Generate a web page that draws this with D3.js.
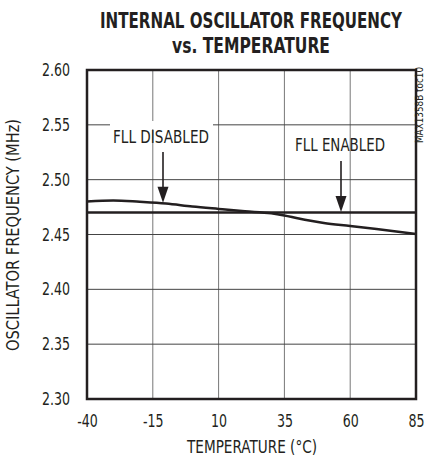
<!DOCTYPE html>
<html><head><meta charset="utf-8">
<script src="https://cdn.jsdelivr.net/npm/d3@7"></script>
<style>
body{margin:0;background:#fff;}
text{font-family:"DejaVu Sans Condensed","Liberation Sans Narrow","Arial Narrow",sans-serif;fill:#231f20;}
</style></head><body>
<svg id="c" width="429" height="459"></svg>
<script>
const temps = [-40, -30, -20, -10, 0, 10, 20, 30, 35, 40, 45, 50, 60, 70, 85];
const fllDisabled = [2.480, 2.481, 2.4798, 2.4782, 2.4755, 2.4733, 2.4712, 2.4693, 2.4673, 2.4648, 2.4625, 2.4605, 2.4578, 2.455, 2.4505];
const fllEnabledTemps = [-40, 85];
const fllEnabled = [2.470, 2.470];
const xTicks = [-40, -15, 10, 35, 60, 85];
const yTicks = [2.30, 2.35, 2.40, 2.45, 2.50, 2.55, 2.60];
const titleLines = ["INTERNAL OSCILLATOR FREQUENCY", "vs. TEMPERATURE"];

const svg = d3.select("#c");
const L = 87, R = 416, T = 70, B = 399;
const x = d3.scaleLinear().domain([-40, 85]).range([L, R]);
const y = d3.scaleLinear().domain([2.30, 2.60]).range([B, T]);

function condense(sel, f) {
  sel.each(function () {
    const w = this.getComputedTextLength();
    d3.select(this).attr("textLength", w * f).attr("lengthAdjust", "spacingAndGlyphs");
  });
}

// title (small font stretched vertically to mimic a bold condensed face)
function titleLine(txt, cy, width) {
  const t = svg.append("text").attr("transform", `translate(251,${cy}) scale(1,1.3)`)
    .attr("text-anchor", "middle").attr("font-size", 16).attr("font-weight", "bold").text(txt);
  t.attr("textLength", width).attr("lengthAdjust", "spacingAndGlyphs");
}
titleLine(titleLines[0], 28, 302);
titleLine(titleLines[1], 53, 158);

// grid
svg.append("g").selectAll("line").data(xTicks.slice(1, -1)).join("line")
  .attr("x1", d => x(d)).attr("x2", d => x(d)).attr("y1", T).attr("y2", B)
  .attr("stroke", "#777").attr("stroke-width", 1);
svg.append("g").selectAll("line").data(yTicks.slice(1, -1)).join("line")
  .attr("x1", L).attr("x2", R).attr("y1", d => y(d)).attr("y2", d => y(d))
  .attr("stroke", "#444").attr("stroke-width", 1);

// axes labels
const xAxis = d3.axisBottom(x).tickValues(xTicks).tickSize(0).tickPadding(16).tickFormat(d => String(d));
const gx = svg.append("g").attr("transform", `translate(0,${B})`).call(xAxis);
gx.select(".domain").remove();
gx.selectAll("text").attr("font-size", 17.5).attr("font-family", null).attr("fill", "#231f20").call(condense, 0.8);

const yAxis = d3.axisLeft(y).tickValues(yTicks).tickSize(0).tickPadding(17).tickFormat(d3.format(".2f"));
const gy = svg.append("g").attr("transform", `translate(${L},0)`).call(yAxis);
gy.select(".domain").remove();
gy.selectAll("text").attr("font-size", 17.5).attr("font-family", null).attr("fill", "#231f20").call(condense, 0.8);

// axis titles
svg.append("text").attr("x", 252).attr("y", 453).attr("text-anchor", "middle")
  .attr("font-size", 17.5).attr("textLength", 130).attr("lengthAdjust", "spacingAndGlyphs").text("TEMPERATURE (°C)");
svg.append("text").attr("transform", "translate(19,235) rotate(-90)").attr("text-anchor", "middle")
  .attr("font-size", 17.5).attr("textLength", 232).attr("lengthAdjust", "spacingAndGlyphs").text("OSCILLATOR FREQUENCY (MHz)");
svg.append("text").attr("transform", "translate(423,105) rotate(-90)").attr("text-anchor", "middle")
  .attr("font-size", 10).attr("textLength", 76).attr("lengthAdjust", "spacingAndGlyphs").text("MAX1358B toc10");

// label background (mask gridline)
svg.append("rect").attr("x", 110).attr("y", 121).attr("width", 103).attr("height", 8).attr("fill", "#fff");

// data lines
const line = d3.line().x(d => x(d[0])).y(d => y(d[1])).curve(d3.curveMonotoneX);
svg.append("path").datum(temps.map((t, i) => [t, fllDisabled[i]])).attr("d", line)
  .attr("fill", "none").attr("stroke", "#231f20").attr("stroke-width", 2.5);
svg.append("path").datum(fllEnabledTemps.map((t, i) => [t, fllEnabled[i]])).attr("d", d3.line().x(d => x(d[0])).y(d => y(d[1])))
  .attr("fill", "none").attr("stroke", "#231f20").attr("stroke-width", 2.5);

// frame
svg.append("rect").attr("x", L).attr("y", T).attr("width", R - L).attr("height", B - T)
  .attr("fill", "none").attr("stroke", "#231f20").attr("stroke-width", 2.5);

// annotations
function arrow(ax, y0, tipV) {
  const ty = y(tipV);
  svg.append("line").attr("x1", ax).attr("x2", ax).attr("y1", y0).attr("y2", ty - 12)
    .attr("stroke", "#231f20").attr("stroke-width", 1.6);
  svg.append("path").attr("d", `M${ax - 5.5},${ty - 16} L${ax + 5.5},${ty - 16} L${ax},${ty} Z`).attr("fill", "#231f20");
}
svg.append("text").attr("x", 161).attr("y", 143).attr("text-anchor", "middle").attr("font-size", 17.5)
  .attr("textLength", 96).attr("lengthAdjust", "spacingAndGlyphs").text("FLL DISABLED");
svg.append("text").attr("x", 340).attr("y", 151).attr("text-anchor", "middle").attr("font-size", 17.5)
  .attr("textLength", 90).attr("lengthAdjust", "spacingAndGlyphs").text("FLL ENABLED");
arrow(163, 152, 2.4790);
arrow(341, 161, 2.4705);
</script></body></html>
